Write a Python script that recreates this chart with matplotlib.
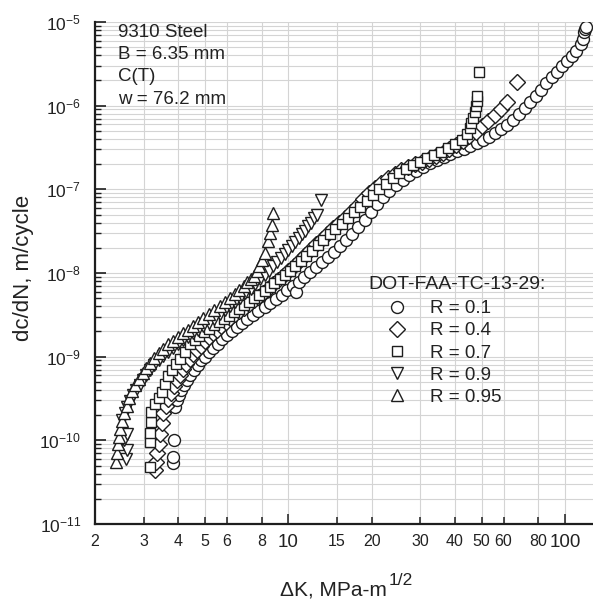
import matplotlib
matplotlib.use("Agg")
import matplotlib.pyplot as plt
from matplotlib.ticker import FixedLocator, NullFormatter, NullLocator

plt.rcParams['font.family'] = ['Liberation Sans', 'DejaVu Sans']
plt.rcParams['mathtext.fontset'] = 'custom'
plt.rcParams['mathtext.rm'] = 'Liberation Sans'
plt.rcParams['mathtext.it'] = 'Liberation Sans:italic'
plt.rcParams['mathtext.bf'] = 'Liberation Sans:bold'

# values (delta K in MPa-m^1/2, dc/dN in m/cycle)

# R = 0.1
K_01 = [3.83, 3.83, 3.85, 3.90, 3.95, 4.02, 4.10, 4.20, 4.30, 4.42, 4.55, 4.70, 4.85,
        5.00, 5.17, 5.35, 5.55, 5.77, 6.00, 6.25, 6.50, 6.80, 7.10, 7.45, 7.80, 8.20,
        8.60, 9.00, 9.45, 9.90, 10.4, 10.7, 10.9, 11.4, 12.0, 12.6, 13.2, 13.9, 14.6,
        15.4, 16.2, 17.0, 17.9, 18.9, 19.9, 20.9, 22.0, 23.2, 24.5, 25.9, 27.4, 29.0,
        30.7, 32.5, 34.4, 36.4, 38.5, 40.7, 43.0, 45.4, 47.9, 50.5, 53.2, 56.0, 58.9,
        61.9, 65.0, 68.2, 71.5, 74.9, 78.4, 82.0, 85.7, 89.5, 93.4, 97.4, 101.5, 105.7,
        110.0, 114.0, 116.0, 117.5, 118.5, 119.0]
dadn_01 = [5.3e-11, 6.4e-11, 1.0e-10, 2.5e-10, 3.0e-10, 3.5e-10, 4.0e-10, 4.6e-10, 5.3e-10,
           6.1e-10, 7.0e-10, 8.0e-10, 9.0e-10, 1.0e-9, 1.13e-9, 1.27e-9, 1.43e-9, 1.62e-9,
           1.82e-9, 2.02e-9, 2.25e-9, 2.5e-9, 2.8e-9, 3.15e-9, 3.5e-9, 3.9e-9, 4.4e-9,
           4.9e-9, 5.5e-9, 6.2e-9, 7.0e-9, 6.0e-9, 7.9e-9, 8.9e-9, 1.02e-8, 1.17e-8,
           1.35e-8, 1.55e-8, 1.78e-8, 2.1e-8, 2.5e-8, 2.95e-8, 3.55e-8, 4.35e-8, 5.35e-8,
           6.6e-8, 8.0e-8, 9.6e-8, 1.13e-7, 1.3e-7, 1.48e-7, 1.66e-7, 1.85e-7, 2.05e-7,
           2.25e-7, 2.45e-7, 2.65e-7, 2.85e-7, 3.05e-7, 3.3e-7, 3.55e-7, 3.85e-7, 4.2e-7,
           4.65e-7, 5.2e-7, 5.9e-7, 6.8e-7, 7.9e-7, 9.3e-7, 1.1e-6, 1.3e-6, 1.55e-6,
           1.85e-6, 2.2e-6, 2.55e-6, 2.95e-6, 3.4e-6, 3.9e-6, 4.5e-6, 5.4e-6, 6.3e-6,
           7.5e-6, 8.3e-6, 8.6e-6]

# R = 0.4
K_04 = [3.30, 3.32, 3.36, 3.40, 3.44, 3.48, 3.53, 3.60, 3.68, 3.76, 3.85, 3.95, 4.05,
        4.16, 4.28, 4.40, 4.53, 4.67, 4.82, 4.98, 5.15, 5.33, 5.52, 5.72, 5.93, 6.15,
        6.40, 6.65, 6.90, 7.20, 7.50, 7.80, 8.10, 8.45, 8.80, 9.20, 9.60, 10.0, 10.5,
        11.0, 11.5, 12.0, 12.6, 13.2, 13.8, 14.5, 15.2, 16.0, 16.8, 17.7, 18.6, 19.6,
        20.6, 21.7, 22.9, 24.2, 25.6, 27.1, 28.7, 30.4, 32.2, 34.1, 36.1, 38.2, 40.4,
        42.7, 45.1, 47.6, 50.2, 52.9, 55.7, 58.6, 61.8, 67.0]
dadn_04 = [4.4e-11, 5.5e-11, 7.0e-11, 9.0e-11, 1.2e-10, 1.6e-10, 2.1e-10, 2.6e-10, 3.1e-10,
           3.7e-10, 4.4e-10, 5.2e-10, 6.1e-10, 7.1e-10, 8.2e-10, 9.4e-10, 1.07e-9, 1.2e-9,
           1.35e-9, 1.52e-9, 1.7e-9, 1.9e-9, 2.1e-9, 2.35e-9, 2.6e-9, 2.87e-9, 3.2e-9,
           3.5e-9, 3.85e-9, 4.25e-9, 4.7e-9, 5.2e-9, 5.8e-9, 6.5e-9, 7.3e-9, 8.2e-9,
           9.3e-9, 1.05e-8, 1.22e-8, 1.42e-8, 1.65e-8, 1.9e-8, 2.2e-8, 2.55e-8, 2.95e-8,
           3.45e-8, 4.0e-8, 4.6e-8, 5.4e-8, 6.4e-8, 7.6e-8, 9.0e-8, 1.05e-7, 1.2e-7,
           1.36e-7, 1.53e-7, 1.7e-7, 1.85e-7, 2.0e-7, 2.15e-7, 2.32e-7, 2.5e-7, 2.75e-7,
           3.05e-7, 3.4e-7, 3.8e-7, 4.3e-7, 4.9e-7, 5.7e-7, 6.6e-7, 7.7e-7, 9.0e-7,
           1.1e-6, 1.93e-6]

# R = 0.7
K_07 = [3.16, 3.16, 3.17, 3.18, 3.20, 3.30, 3.40, 3.49, 3.57, 3.68, 3.79, 3.92, 4.06,
        4.23, 4.40, 4.58, 4.77, 4.97, 5.18, 5.40, 5.63, 5.87, 6.12, 6.38, 6.65, 6.93,
        7.22, 7.53, 7.85, 8.20, 8.55, 8.90, 9.30, 9.70, 10.1, 10.6, 11.1, 11.6, 12.2,
        12.8, 13.4, 14.1, 14.8, 15.6, 16.4, 17.3, 18.2, 19.2, 20.2, 21.3, 22.5, 23.8,
        25.2, 26.7, 28.3, 30.0, 31.8, 33.7, 35.7, 37.8, 40.0, 42.3, 44.1, 45.2, 45.9,
        46.5, 47.1, 47.6, 47.9, 48.1, 48.9]
dadn_07 = [4.8e-11, 9.6e-11, 1.23e-10, 1.66e-10, 2.2e-10, 2.7e-10, 3.2e-10, 3.8e-10, 4.7e-10,
           5.8e-10, 7.0e-10, 8.1e-10, 9.4e-10, 1.15e-9, 1.4e-9, 1.58e-9, 1.76e-9, 1.95e-9,
           2.15e-9, 2.37e-9, 2.6e-9, 2.85e-9, 3.1e-9, 3.4e-9, 3.75e-9, 4.1e-9, 4.5e-9,
           5.0e-9, 5.5e-9, 6.1e-9, 6.8e-9, 7.6e-9, 8.5e-9, 9.5e-9, 1.07e-8, 1.22e-8,
           1.4e-8, 1.6e-8, 1.85e-8, 2.15e-8, 2.5e-8, 2.9e-8, 3.35e-8, 3.9e-8, 4.5e-8,
           5.3e-8, 6.2e-8, 7.3e-8, 8.6e-8, 1.0e-7, 1.17e-7, 1.35e-7, 1.55e-7, 1.75e-7,
           1.95e-7, 2.15e-7, 2.35e-7, 2.55e-7, 2.8e-7, 3.1e-7, 3.45e-7, 3.9e-7, 4.6e-7,
           5.4e-7, 6.2e-7, 7.2e-7, 8.4e-7, 1.0e-6, 1.15e-6, 1.3e-6, 2.5e-6]

# R = 0.9
K_09 = [2.58, 2.60, 2.55, 2.60, 2.50, 2.56, 2.62, 2.68, 2.75, 2.82, 2.90, 2.98, 3.07,
        3.16, 3.27, 3.40, 3.53, 3.67, 3.82, 3.98, 4.15, 4.33, 4.52, 4.72, 4.93, 5.15,
        5.40, 5.65, 5.90, 6.15, 6.40, 6.70, 7.00, 7.30, 7.60, 7.90, 8.20, 8.50, 8.80,
        9.10, 9.40, 9.70, 10.0, 10.3, 10.6, 10.9, 11.2, 11.5, 11.8, 12.1, 12.4, 12.7, 13.1]
dadn_09 = [6.0e-11, 7.7e-11, 1.0e-10, 1.2e-10, 1.76e-10, 2.1e-10, 2.5e-10, 2.95e-10, 3.45e-10,
           4.0e-10, 4.6e-10, 5.3e-10, 6.1e-10, 6.9e-10, 7.9e-10, 9.0e-10, 1.02e-9, 1.15e-9,
           1.28e-9, 1.42e-9, 1.57e-9, 1.73e-9, 1.9e-9, 2.1e-9, 2.3e-9, 2.55e-9, 2.85e-9,
           3.2e-9, 3.6e-9, 4.0e-9, 4.5e-9, 5.0e-9, 5.7e-9, 6.5e-9, 7.4e-9, 8.4e-9, 9.5e-9,
           1.07e-8, 1.2e-8, 1.35e-8, 1.5e-8, 1.7e-8, 1.9e-8, 2.1e-8, 2.35e-8, 2.6e-8,
           2.9e-8, 3.2e-8, 3.6e-8, 4.0e-8, 4.5e-8, 5.0e-8, 7.5e-8]

# R = 0.95
K_095 = [2.38, 2.40, 2.42, 2.44, 2.46, 2.50, 2.55, 2.60, 2.66, 2.73, 2.80, 2.88, 2.97,
         3.06, 3.16, 3.27, 3.40, 3.53, 3.67, 3.82, 3.98, 4.15, 4.33, 4.52, 4.72, 4.93,
         5.15, 5.40, 5.65, 5.90, 6.15, 6.40, 6.65, 6.90, 7.10, 7.30, 7.50, 7.70, 7.85,
         8.00, 8.20, 8.45, 8.60, 8.70, 8.80]
dadn_095 = [5.5e-11, 7.0e-11, 9.0e-11, 1.1e-10, 1.35e-10, 1.7e-10, 2.1e-10, 2.6e-10, 3.2e-10,
            3.9e-10, 4.6e-10, 5.4e-10, 6.3e-10, 7.3e-10, 8.4e-10, 9.6e-10, 1.1e-9, 1.25e-9,
            1.4e-9, 1.55e-9, 1.72e-9, 1.9e-9, 2.1e-9, 2.35e-9, 2.6e-9, 2.9e-9, 3.2e-9,
            3.6e-9, 4.0e-9, 4.5e-9, 5.0e-9, 5.6e-9, 6.3e-9, 7.0e-9, 7.7e-9, 8.5e-9, 9.3e-9,
            1.05e-8, 1.2e-8, 1.43e-8, 1.74e-8, 2.4e-8, 3.0e-8, 3.7e-8, 5.2e-8]

labels = ['R = 0.1', 'R = 0.4', 'R = 0.7', 'R = 0.9', 'R = 0.95']
x_ticks = [2, 3, 4, 5, 6, 8, 10, 15, 20, 30, 40, 50, 60, 80, 100]
y_exps = [-11, -10, -9, -8, -7, -6, -5]
notes = ['9310 Steel', 'B = 6.35 mm', 'C(T)', 'w = 76.2 mm']
legend_title = 'DOT-FAA-TC-13-29:'

ink = '#1e1e1e'
W, H = 593, 599

fig = plt.figure(figsize=(W / 100, H / 100), dpi=100)
ax = fig.add_axes([95 / W, 1 - 524 / H, (W - 95) / W, 502 / H])
ax.set_xscale('log')
ax.set_yscale('log')

series = [(K_01, dadn_01, 'o', 8.6),
          (K_04, dadn_04, 'D', 7.8),
          (K_07, dadn_07, 's', 7.6),
          (K_09, dadn_09, 'v', 8.6),
          (K_095, dadn_095, '^', 8.6)]
for (K, dadn, mk, ms), lab in zip(series, labels):
    ax.plot(K, dadn, ls='none', marker=mk, ms=ms, mfc='white', mec=ink, mew=1.0, label=lab)

ax.set_xlim(2, 126.3)
ax.set_ylim(1e-11, 1e-5)

ax.xaxis.set_major_locator(FixedLocator(x_ticks))
ax.xaxis.set_minor_locator(NullLocator())
ax.set_xticklabels([str(v) for v in x_ticks])
ax.yaxis.set_major_locator(FixedLocator([10.0 ** e for e in y_exps]))
ax.yaxis.set_minor_locator(FixedLocator([m * 10.0 ** e for e in y_exps[:-1] for m in range(2, 10)]))
ax.yaxis.set_minor_formatter(NullFormatter())
ax.set_yticklabels([r'$10^{%d}$' % e for e in y_exps])

ax.set_axisbelow(True)
ax.grid(True, axis='x', which='major', color='#d4d4d4', lw=0.8)
ax.grid(True, axis='y', which='both', color='#d4d4d4', lw=0.8)

ax.tick_params(which='both', direction='in', color=ink, labelcolor='#222222')
ax.tick_params(axis='x', which='major', length=5, width=1.1, pad=7, labelsize=11.5)
ax.tick_params(axis='y', which='major', length=8, width=1.2, pad=10, labelsize=12.5)
ax.tick_params(axis='y', which='minor', length=4.5, width=1.0)
for t, v in zip(ax.xaxis.get_major_ticks(), x_ticks):
    if v in (10, 100):
        t.tick1line.set_markersize(7.5)
        t.label1.set_fontsize(13.5)

for s in ('top', 'right'):
    ax.spines[s].set_visible(False)
for s in ('left', 'bottom'):
    ax.spines[s].set_linewidth(1.6)
    ax.spines[s].set_color(ink)

# notes in the top left corner
for i, line in enumerate(notes):
    fig.text(118 / W, 1 - (37 + 22.2 * i) / H, line, fontsize=13.5, color='#222222',
             ha='left', va='baseline')

# axis titles
fig.text(24 / W, 1 - 268 / H, 'dc/dN, m/cycle', rotation=90, fontsize=16,
         color='#222222', ha='center', va='center')
fig.text(387 / W, 1 - 595 / H, '\u0394K, MPa-m', fontsize=15, color='#222222',
         ha='right', va='baseline')
fig.text(389 / W, 1 - 585 / H, '1/2', fontsize=12.5, color='#222222',
         ha='left', va='baseline')

# legend: title as its own text, entries below it
fig.text(368 / W, 1 - 289 / H, legend_title, fontsize=14, color='#222222',
         ha='left', va='baseline')
leg = ax.legend(loc='upper left', bbox_to_anchor=(386 / W, 1 - 300 / H),
                bbox_transform=fig.transFigure, frameon=False,
                fontsize=13.5, handlelength=1.2, handletextpad=1.15,
                labelspacing=0.27, borderpad=0, borderaxespad=0)
for txt in leg.get_texts():
    txt.set_color('#222222')

fig.savefig('out.png', dpi=100)
